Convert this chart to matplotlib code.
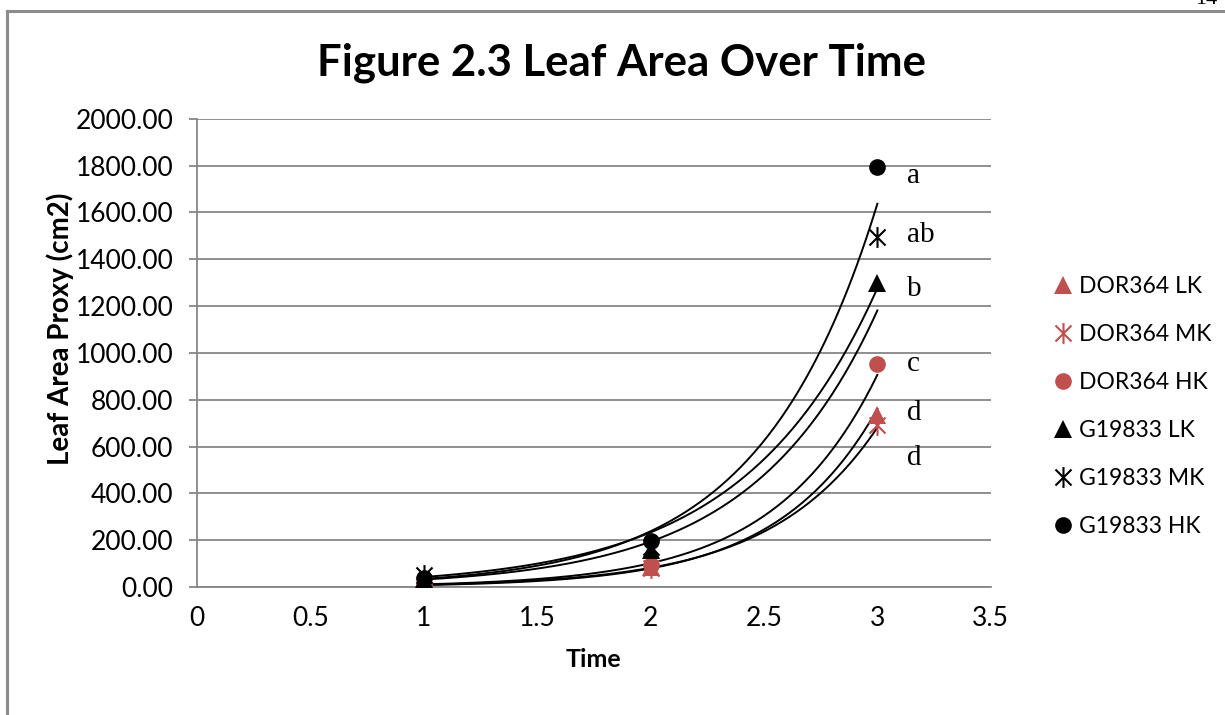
import numpy as np
import matplotlib
matplotlib.use("Agg")
import matplotlib.pyplot as plt
from matplotlib.path import Path
from matplotlib.lines import Line2D

plt.rcParams['font.family'] = ['Lato', 'DejaVu Sans']

# data
time = [1, 2, 3]
series_names = ["DOR364 LK", "DOR364 MK", "DOR364 HK",
                "G19833 LK", "G19833 MK", "G19833 HK"]
dor364_lk = [8, 85, 735]
dor364_mk = [10, 80, 690]
dor364_hk = [12, 92, 953]
g19833_lk = [35, 160, 1300]
g19833_mk = [50, 170, 1495]
g19833_hk = [38, 198, 1795]
letters = ["a", "ab", "b", "c", "d", "d"]
letter_y = [1756, 1504, 1274, 953, 744, 551]

red = "#C0504D"
grid = "#868686"

# Excel style asterisk marker: an X plus a vertical bar
star = Path([(-1, -1), (1, 1), (-1, 1), (1, -1), (0, -1.3), (0, 1.3)],
            [Path.MOVETO, Path.LINETO, Path.MOVETO, Path.LINETO, Path.MOVETO, Path.LINETO])

styles = [("^", red, 13), (star, red, 15), ("o", red, 12),
          ("^", "black", 13), (star, "black", 15), ("o", "black", 12)]
values = [dor364_lk, dor364_mk, dor364_hk, g19833_lk, g19833_mk, g19833_hk]

fig = plt.figure(figsize=(12.25, 7.15), dpi=100)
ax = fig.add_axes([0.1608, 0.179, 0.648, 0.655])

xs = np.linspace(1, 3, 200)
for name, vals, (m, c, ms) in zip(series_names, values, styles):
    # exponential trendline like Excel
    b, a = np.polyfit(time, np.log(vals), 1)
    ax.plot(xs, np.exp(a + b * xs), color="black", lw=1.4, zorder=2)
for name, vals, (m, c, ms) in zip(series_names, values, styles):
    if m is star:
        ax.plot(time, vals, linestyle="none", marker=m, markersize=ms, color=c,
                markeredgewidth=1.5, markerfacecolor="none", label=name, zorder=3)
    else:
        ax.plot(time, vals, linestyle="none", marker=m, markersize=ms, color=c,
                markeredgewidth=0, label=name, zorder=3)

for lab, y in zip(letters, letter_y):
    ax.text(3.13, y, lab, fontsize=21, family=["Liberation Serif"], va="center", ha="left")

ax.set_xlim(0, 3.5)
ax.set_ylim(0, 2000)
ax.set_xticks(np.arange(0, 3.51, 0.5))
ax.set_xticklabels(["0", "0.5", "1", "1.5", "2", "2.5", "3", "3.5"])
ax.set_yticks(np.arange(0, 2001, 200))
ax.set_yticklabels([f"{v:.2f}" for v in range(0, 2001, 200)])
ax.yaxis.grid(True, color=grid, lw=1.3)
ax.set_axisbelow(True)
for s in ["top", "right"]:
    ax.spines[s].set_visible(False)
ax.spines["left"].set_color(grid)
ax.spines["bottom"].set_color(grid)
ax.spines["left"].set_linewidth(1.3)
ax.spines["bottom"].set_linewidth(1.3)
ax.tick_params(axis="y", length=6, width=1.3, color=grid, labelsize=19, pad=11)
ax.tick_params(axis="x", length=0, labelsize=19, pad=14)

ax.set_xlabel("Time", fontsize=18, fontweight="bold", labelpad=12)
ax.set_ylabel("Leaf Area Proxy (cm2)", fontsize=20, fontweight="bold")
ax.yaxis.set_label_coords(-0.155, 0.551)
fig.text(0.507, 0.912, "Figure 2.3 Leaf Area Over Time", fontsize=31.5,
         fontweight="bold", ha="center", va="center")

ax.legend(loc="center left", bbox_to_anchor=(1.05, 0.385), frameon=False,
          fontsize=16.5, handlelength=0.8, handletextpad=0.3, labelspacing=1.18,
          borderaxespad=0.6)

# chart border and page number
fig.add_artist(Line2D([7 / 1225, 1], [1 - 11 / 715, 1 - 11 / 715], color="#8c8c8c", lw=2.2))
fig.add_artist(Line2D([7 / 1225, 7 / 1225], [0, 1 - 11 / 715], color="#8c8c8c", lw=2.2))
fig.text(0.985, 1.0, "14", fontsize=16, family=["Liberation Serif"], ha="center", va="center")

fig.savefig("out.png", dpi=100)
